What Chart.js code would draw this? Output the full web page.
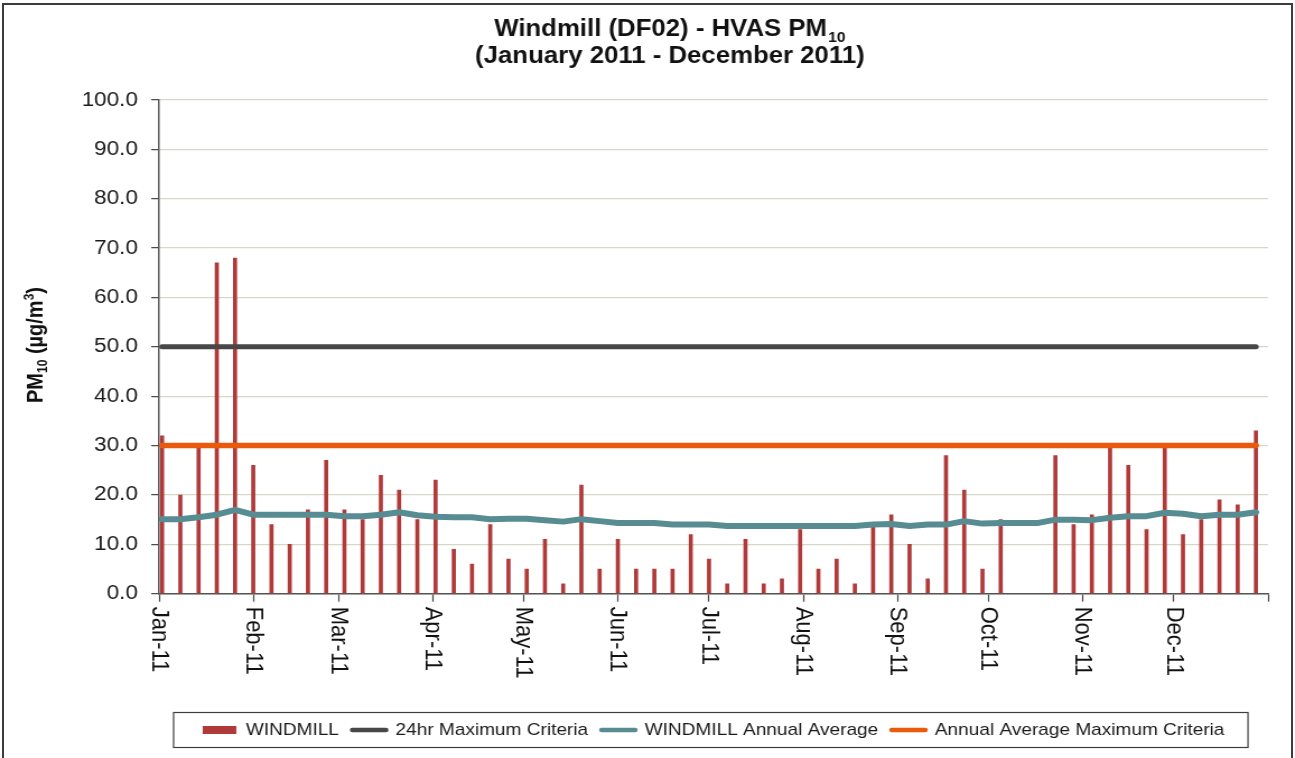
<!DOCTYPE html>
<html>
<head>
<meta charset="utf-8">
<script src="https://cdn.jsdelivr.net/npm/chart.js@4.4.1/dist/chart.umd.min.js"></script>
<style>
html,body{margin:0;padding:0;background:#fff;overflow:hidden;width:1295px;height:758px;}
#wrap{position:absolute;left:0;top:0;width:1156px;height:758px;transform-origin:0 0;transform:scaleX(1.1202);}
#frame{position:absolute;left:2px;top:3px;width:1291px;height:800px;border:2px solid #3c3c3c;box-sizing:border-box;pointer-events:none;}
</style>
</head>
<body>
<div id="wrap"><canvas id="c" width="1156" height="758"></canvas></div>
<div id="frame"></div>
<script>
const FONT = "'Liberation Sans', Arial, Helvetica, sans-serif";

const titleLine1 = 'Windmill (DF02) - HVAS PM';
const titleSub = '10';
const titleLine2 = '(January 2011 - December 2011)';
const yTitleParts = [['PM', 'n'], ['10', 'sub'], [' (µg/m', 'n'], ['3', 'sup'], [')', 'n']];

const sampleDates = [
  '2011-01-02','2011-01-08','2011-01-14','2011-01-20','2011-01-26',
  '2011-02-01','2011-02-07','2011-02-13','2011-02-19','2011-02-25',
  '2011-03-03','2011-03-09','2011-03-15','2011-03-21','2011-03-27',
  '2011-04-02','2011-04-08','2011-04-14','2011-04-20','2011-04-26',
  '2011-05-02','2011-05-08','2011-05-14','2011-05-20','2011-05-26',
  '2011-06-01','2011-06-07','2011-06-13','2011-06-19','2011-06-25',
  '2011-07-01','2011-07-07','2011-07-13','2011-07-19','2011-07-25','2011-07-31',
  '2011-08-06','2011-08-12','2011-08-18','2011-08-24','2011-08-30',
  '2011-09-05','2011-09-11','2011-09-17','2011-09-23','2011-09-29',
  '2011-10-05','2011-10-11','2011-10-17','2011-10-23','2011-10-29',
  '2011-11-04','2011-11-10','2011-11-16','2011-11-22','2011-11-28',
  '2011-12-04','2011-12-10','2011-12-16','2011-12-22','2011-12-28'
];

const windmill = [
  32, 20, 30, 67, 68,
  26, 14, 10, 17, 27,
  17, 15, 24, 21, 15,
  23, 9, 6, 14, 7,
  5, 11, 2, 22, 5,
  11, 5, 5, 5, 12,
  7, 2, 11, 2, 3, 13,
  5, 7, 2, 14, 16,
  10, 3, 28, 21, 5,
  15, null, null, 28, 14,
  16, 30, 26, 13, 30,
  12, 15, 19, 18, 33
];

const windmillAnnualAvg = [
  15.1, 15.1, 15.5, 16.0, 17.0,
  16.0, 16.0, 16.0, 16.0, 16.0,
  15.7, 15.7, 16.0, 16.5, 15.9,
  15.6, 15.5, 15.5, 15.1, 15.2,
  15.2, 14.9, 14.6, 15.1, 14.7,
  14.3, 14.3, 14.3, 14.0, 14.0,
  14.0, 13.7, 13.7, 13.7, 13.7, 13.7,
  13.7, 13.7, 13.7, 14.0, 14.1,
  13.7, 14.0, 14.0, 14.7, 14.2,
  14.3, 14.3, 14.3, 15.0, 15.0,
  14.9, 15.4, 15.7, 15.7, 16.4,
  16.2, 15.7, 16.0, 16.0, 16.5
];

const criteria24hr = 50;
const criteriaAnnual = 30;

const monthStarts = ['2011-01-01','2011-02-01','2011-03-01','2011-04-01','2011-05-01','2011-06-01',
                     '2011-07-01','2011-08-01','2011-09-01','2011-10-01','2011-11-01','2011-12-01','2012-01-01'];
const monthLabels = ['Jan-11','Feb-11','Mar-11','Apr-11','May-11','Jun-11',
                     'Jul-11','Aug-11','Sep-11','Oct-11','Nov-11','Dec-11'];

const seriesLabels = ['WINDMILL', '24hr Maximum Criteria', 'WINDMILL Annual Average', 'Annual Average Maximum Criteria'];

const DAY0 = Date.UTC(2011, 0, 1);
function dayOf(s) {
  const p = s.split('-').map(Number);
  return (Date.UTC(p[0], p[1] - 1, p[2]) - DAY0) / 86400000;
}
const sampleDays = sampleDates.map(dayOf);
const monthDays = monthStarts.map(dayOf);

const barData = sampleDays.map((d, i) => ({x: d, y: windmill[i]}));
const avgData = sampleDays.map((d, i) => ({x: d, y: windmillAnnualAvg[i]}));
const c24Data = sampleDays.map(d => ({x: d, y: criteria24hr}));
const cAnnData = sampleDays.map(d => ({x: d, y: criteriaAnnual}));

const COL_BAR = '#b03a3a', COL_24 = '#474747', COL_AVG = '#578d92', COL_ANN = '#ea5a0c';

const decor = {
  id: 'decor',
  afterDraw(chart) {
    const ctx = chart.ctx;
    const ca = chart.chartArea;
    ctx.save();
    // Title
    ctx.fillStyle = '#111';
    ctx.textBaseline = 'alphabetic';
    ctx.textAlign = 'left';
    const cx = 598;
    ctx.font = 'bold 23px ' + FONT;
    const w1 = ctx.measureText(titleLine1).width;
    ctx.font = 'bold 14px ' + FONT;
    const w2 = ctx.measureText(titleSub).width;
    const x0 = cx - (w1 + w2 + 1) / 2;
    ctx.font = 'bold 23px ' + FONT;
    ctx.fillText(titleLine1, x0, 36);
    ctx.font = 'bold 14px ' + FONT;
    ctx.fillText(titleSub, x0 + w1 + 1, 41.5);
    ctx.font = 'bold 23px ' + FONT;
    ctx.textAlign = 'center';
    ctx.fillText(titleLine2, cx, 63);

    // Y axis title
    ctx.save();
    ctx.translate(30.7, 345);
    ctx.rotate(-Math.PI / 2);
    ctx.textAlign = 'left';
    const fontFor = k => (k === 'n' ? 'bold 20px ' : 'bold 12px ') + FONT;
    let total = 0;
    yTitleParts.forEach(([t, k]) => { ctx.font = fontFor(k); total += ctx.measureText(t).width; });
    let x = -total / 2;
    yTitleParts.forEach(([t, k]) => {
      ctx.font = fontFor(k);
      const dy = k === 'sub' ? 4 : (k === 'sup' ? -8 : 0);
      ctx.fillText(t, x, 7 + dy);
      x += ctx.measureText(t).width;
    });
    ctx.restore();

    // X tick labels (rotated clockwise)
    const xs = chart.scales.x;
    ctx.font = '22px ' + FONT;
    ctx.fillStyle = '#111';
    ctx.textAlign = 'left';
    ctx.textBaseline = 'middle';
    monthLabels.forEach((lab, i) => {
      const px = xs.getPixelForValue(monthDays[i]);
      ctx.save();
      ctx.translate(px, ca.bottom + 13);
      ctx.rotate(Math.PI / 2);
      ctx.fillText(lab, 0, 0);
      ctx.restore();
    });

    // Legend border
    const hb = chart.legend && chart.legend.legendHitBoxes;
    if (hb && hb.length) {
      const l = Math.min(...hb.map(h => h.left)) - 26;
      const r = Math.max(...hb.map(h => h.left + h.width)) + 21;
      const cy = hb[0].top + hb[0].height / 2;
      ctx.strokeStyle = '#3c3c3c';
      ctx.lineWidth = 1.2;
      ctx.strokeRect(l, cy - 17.5, r - l, 35);
    }
    ctx.restore();
  }
};

new Chart(document.getElementById('c'), {
  type: 'bar',
  data: {
    datasets: [
      {label: seriesLabels[0], data: barData, backgroundColor: COL_BAR, borderWidth: 0, barThickness: 3, order: 4},
      {type: 'line', label: seriesLabels[1], data: c24Data, borderColor: COL_24, backgroundColor: COL_24,
       borderWidth: 5, pointRadius: 0, borderCapStyle: 'round', tension: 0, order: 3},
      {type: 'line', label: seriesLabels[2], data: avgData, borderColor: COL_AVG, backgroundColor: COL_AVG,
       borderWidth: 6, pointRadius: 0, borderCapStyle: 'round', borderJoinStyle: 'round', tension: 0, order: 1},
      {type: 'line', label: seriesLabels[3], data: cAnnData, borderColor: COL_ANN, backgroundColor: COL_ANN,
       borderWidth: 5.5, pointRadius: 0, borderCapStyle: 'round', tension: 0, order: 2}
    ]
  },
  options: {
    responsive: false,
    animation: false,
    devicePixelRatio: 1,
    layout: {padding: {left: 42, right: 24, top: 100, bottom: 9.5}},
    plugins: {
      title: {display: false},
      tooltip: {enabled: false},
      legend: {
        position: 'bottom',
        fullSize: false,
        labels: {
          usePointStyle: true,
          pointStyleWidth: 30,
          boxHeight: 8,
          padding: 12,
          font: {family: FONT, size: 17},
          color: '#1a1a1a',
          generateLabels(chart) {
            return chart.data.datasets.map((ds, i) => {
              const isLine = ds.type === 'line';
              const col = isLine ? ds.borderColor : ds.backgroundColor;
              return {
                text: ds.label, datasetIndex: i, hidden: false,
                fillStyle: col, strokeStyle: col, fontColor: '#1a1a1a',
                lineWidth: isLine ? 4.5 : 0, lineCap: 'round', lineJoin: 'round',
                lineDash: [], lineDashOffset: 0,
                pointStyle: isLine ? 'line' : 'rect', rotation: 0
              };
            });
          }
        }
      }
    },
    scales: {
      x: {
        type: 'linear', min: 0, max: 365, offset: false,
        afterBuildTicks: s => { s.ticks = monthDays.map(v => ({value: v})); },
        afterFit: s => { s.height = 115.8; },
        ticks: {display: false},
        grid: {display: true, drawOnChartArea: false, drawTicks: true, tickLength: 8, tickColor: '#444', tickWidth: 1.2, offset: false},
        border: {display: true, color: '#555', width: 1.5}
      },
      y: {
        min: 0, max: 100,
        afterFit: s => { s.width = 100; },
        ticks: {stepSize: 10, callback: v => Number(v).toFixed(1), font: {family: FONT, size: 20}, color: '#1a1a1a', padding: 12},
        grid: {color: '#d6d7c9', lineWidth: 1.3, tickLength: 7, tickColor: '#444', tickWidth: 1.2},
        border: {display: true, color: '#555', width: 1.5}
      }
    }
  },
  plugins: [decor]
});
</script>
</body>
</html>
